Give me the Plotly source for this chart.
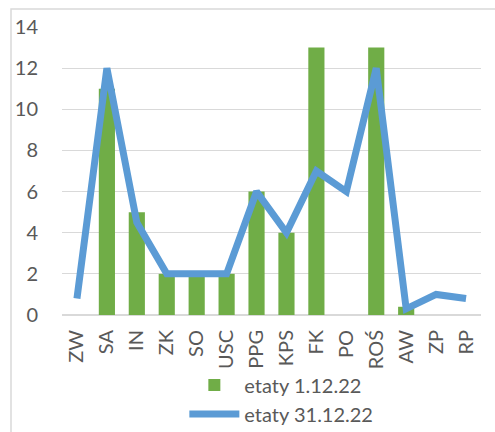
import plotly.graph_objects as go

categories = ["ZW", "SA", "IN", "ZK", "SO", "USC", "PPG", "KPS", "FK", "PO", "ROŚ", "AW", "ZP", "RP"]
etaty_1 = [0, 11, 5, 2, 2, 2, 6, 4, 13, 0, 13, 0.4, 0, 0]
etaty_31 = [0.8, 12, 4.5, 2, 2, 2, 6, 4, 7, 6, 12, 0.3, 1, 0.8]
y_ticks = [0, 2, 4, 6, 8, 10, 12, 14]

font_family = "Lato, Carlito, Calibri, sans-serif"
gray = "#595959"
fs = 20

fig = go.Figure()
fig.add_trace(go.Bar(
    x=categories, y=etaty_1, name="etaty 1.12.22",
    marker=dict(color="#70AD47", line=dict(width=0)),
))
fig.add_trace(go.Scatter(
    x=categories, y=etaty_31, name="etaty 31.12.22", mode="lines",
    line=dict(color="#5B9BD5", width=7, shape="linear"),
))

fig.update_layout(
    width=495, height=432,
    margin=dict(l=62, r=14, t=27, b=117, autoexpand=False),
    paper_bgcolor="white", plot_bgcolor="white",
    bargap=0.46,
    font=dict(family=font_family, size=fs, color=gray),
    showlegend=True,
    legend=dict(
        orientation="v", x=0.292, xanchor="left", y=-0.175, yanchor="top",
        font=dict(size=fs, color=gray), itemwidth=50, tracegroupgap=0,
        bgcolor="rgba(0,0,0,0)",
    ),
    xaxis=dict(
        type="category", tickangle=-90, showgrid=False, showline=False,
        ticks="", ticklabelstandoff=10, tickfont=dict(size=fs, color=gray),
        automargin=False,
    ),
    yaxis=dict(
        range=[0, 14], tickvals=y_ticks, showgrid=True, gridcolor="#d9d9d9",
        gridwidth=1, zeroline=True, zerolinecolor="#d9d9d9", zerolinewidth=1.5,
        showline=False, ticks="", ticklabelstandoff=23,
        tickfont=dict(size=fs, color=gray), automargin=False,
    ),
    shapes=[dict(
        type="rect", xref="paper", yref="paper",
        x0=-0.1217, x1=1.04, y0=-0.42, y1=1.0625,
        line=dict(color="#d9d9d9", width=1.5), layer="below",
    )],
)

fig.write_html(
    "out.html",
    config={"displayModeBar": False},
    post_script="document.body.style.margin='0';document.body.style.overflow='hidden';",
)
